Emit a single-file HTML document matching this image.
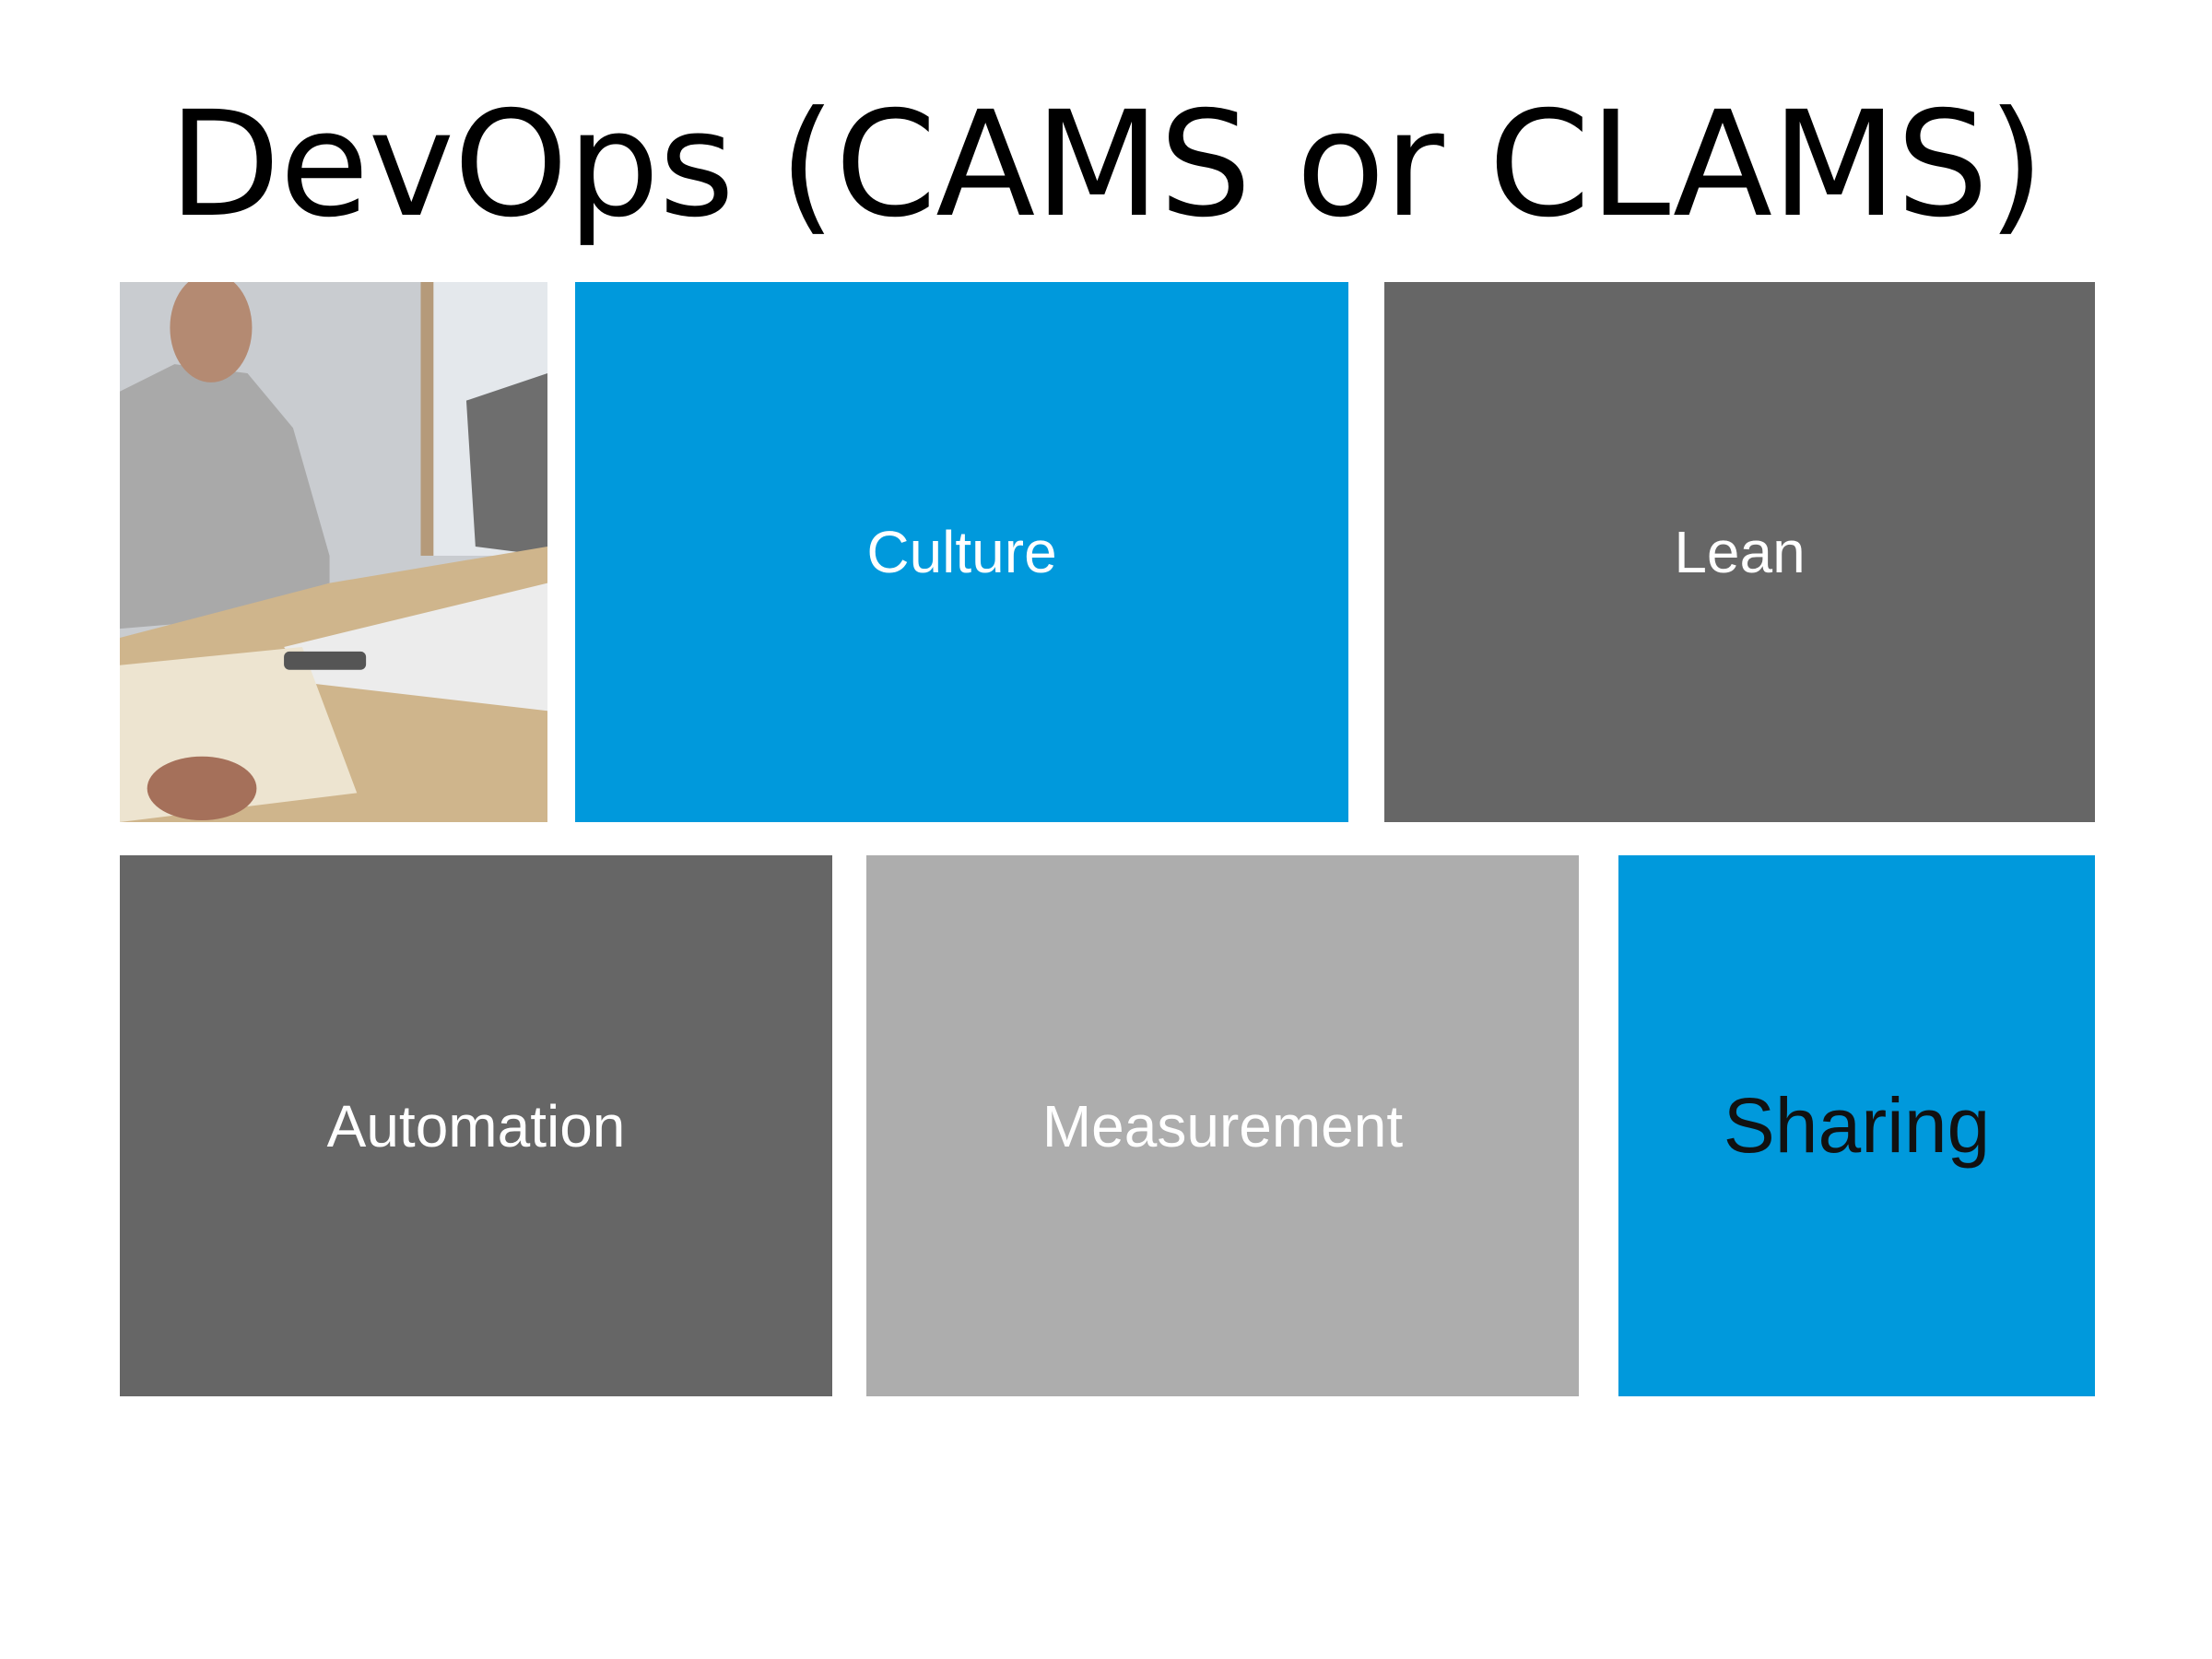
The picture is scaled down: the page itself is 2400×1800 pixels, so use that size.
<!DOCTYPE html>
<html><head><meta charset="utf-8"><style>
html,body{margin:0;padding:0;background:#fff;}
body{width:2400px;height:1800px;position:relative;overflow:hidden;font-family:"Liberation Sans",sans-serif;}
.t{position:absolute;left:0;width:2400px;top:100px;text-align:center;font-size:158px;color:#000;line-height:1;letter-spacing:-1px;font-family:"DejaVu Sans","Liberation Sans",sans-serif;}
.b{position:absolute;display:flex;align-items:center;justify-content:center;color:#fff;font-size:64px;}
</style></head><body>
<div class="t">DevOps (CAMS or CLAMS)</div>
<svg style="position:absolute;left:130px;top:306px" width="464" height="586" viewBox="0 0 469 592" preserveAspectRatio="none">
<rect width="469" height="592" fill="#c9ccd0"/>
<rect x="330" y="0" width="139" height="300" fill="#e4e8ec"/>
<rect x="330" y="0" width="14" height="300" fill="#b59a7a"/>
<path d="M0 120 L60 90 L140 100 L190 160 L230 300 L230 330 L120 370 L0 380 Z" fill="#a9a9a9"/>
<ellipse cx="100" cy="50" rx="45" ry="60" fill="#b48a72"/>
<path d="M380 130 L469 100 L469 300 L390 290 Z" fill="#6e6e6e"/>
<path d="M0 390 L230 330 L469 290 L469 592 L0 592 Z" fill="#cfb58c"/>
<path d="M180 400 L469 330 L469 470 L210 440 Z" fill="#ececec"/>
<path d="M0 420 L200 400 L260 560 L0 592 Z" fill="#ede4d0"/>
<ellipse cx="90" cy="555" rx="60" ry="35" fill="#a5705a"/>
<rect x="180" y="405" width="90" height="20" fill="#555" rx="6"/>
</svg>
<div class="b" style="left:624px;top:306px;width:839px;height:586px;background:#0099dc;">Culture</div>
<div class="b" style="left:1502px;top:306px;width:771px;height:586px;background:#666666;">Lean</div>
<div class="b" style="left:130px;top:928px;width:773px;height:587px;background:#666666;">Automation</div>
<div class="b" style="left:940px;top:928px;width:773px;height:587px;background:#adadad;">Measurement</div>
<div class="b" style="left:1756px;top:928px;width:517px;height:587px;background:#0099dc;color:#111;font-size:84px;">Sharing</div>
</body></html>
